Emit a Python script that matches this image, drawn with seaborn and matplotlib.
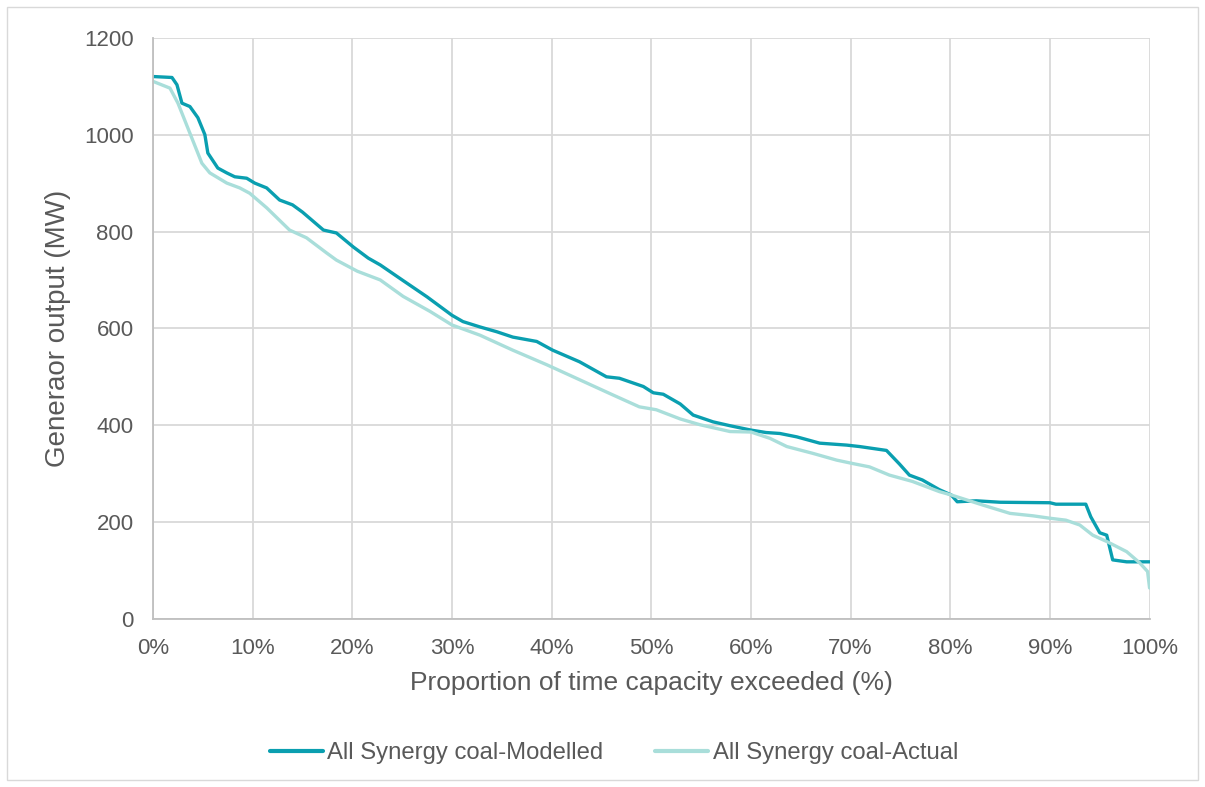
import numpy as np
import pandas as pd
import seaborn as sns
import matplotlib.pyplot as plt
from matplotlib.ticker import PercentFormatter
from matplotlib.patches import Rectangle

# duration curve points (x in % of time, y in MW)
modelled_x = [0.0, 1.9, 2.4, 2.9, 3.7, 4.5, 5.2, 5.5, 6.5, 7.4, 8.2, 9.4, 10.2, 11.4,
              12.7, 14.0, 15.0, 17.1, 18.4, 20.1, 21.6, 22.8, 25.0, 27.5, 30.0, 31.1,
              32.8, 34.5, 36.1, 38.5, 40.1, 42.8, 45.5, 46.8, 49.2, 50.2, 51.2, 52.9,
              54.2, 56.2, 57.9, 60.0, 61.5, 62.9, 64.6, 66.9, 69.6, 70.9, 73.6, 74.9,
              75.9, 77.2, 78.9, 80.1, 80.7, 82.6, 85.0, 90.0, 90.6, 93.6, 94.1, 95.0,
              95.7, 96.3, 97.7, 100.0]
modelled_y = [1120, 1118, 1103, 1065, 1058, 1035, 1000, 962, 931, 921, 913, 910, 900, 890,
              865, 855, 840, 803, 797, 768, 745, 731, 700, 665, 627, 614,
              603, 593, 582, 573, 555, 531, 500, 497, 480, 467, 464, 444,
              421, 407, 399, 390, 385, 383, 376, 363, 359, 356, 348, 320,
              297, 287, 267, 256, 242, 244, 241, 240, 237, 237, 211, 178,
              173, 122, 118, 118]

actual_x = [0.0, 1.7, 2.5, 3.7, 4.9, 5.7, 7.4, 8.7, 9.7, 11.4, 13.7, 15.4, 17.4, 18.4,
            20.5, 22.8, 25.1, 27.8, 30.0, 32.8, 36.1, 39.5, 42.8, 46.1, 48.8, 50.5,
            52.9, 54.9, 57.9, 60.0, 61.9, 63.6, 66.2, 68.6, 70.2, 71.9, 73.9, 76.2,
            78.9, 80.1, 83.3, 86.0, 88.3, 90.0, 91.6, 93.0, 94.3, 95.7, 97.7, 99.0,
            99.8, 100.0]
actual_y = [1110, 1096, 1065, 1003, 941, 921, 900, 890, 879, 849, 803, 787, 756, 741,
            718, 700, 666, 635, 607, 586, 555, 525, 494, 463, 438, 432,
            413, 401, 387, 386, 373, 356, 342, 328, 321, 314, 297, 284,
            263, 256, 235, 218, 213, 208, 204, 194, 173, 160, 139, 116,
            98, 64]

series_names = ["All Synergy coal-Modelled", "All Synergy coal-Actual"]
colours = ["#0A9FB0", "#A9DEDA"]

df = pd.concat([
    pd.DataFrame({"x": modelled_x, "y": modelled_y, "series": series_names[0]}),
    pd.DataFrame({"x": actual_x, "y": actual_y, "series": series_names[1]}),
])

sns.set_style("white")
plt.rcParams['font.family'] = ['Liberation Sans', 'DejaVu Sans']
text_col = "#595959"

fig = plt.figure(figsize=(12.05, 7.87), dpi=100)
ax = fig.add_axes([0.127, 0.2135, 0.827, 0.7385])

sns.lineplot(data=df, x="x", y="y", hue="series", hue_order=series_names,
             palette=colours, estimator=None, sort=False, linewidth=2.4, ax=ax,
             legend=False)

ax.set_xlim(0, 100)
ax.set_ylim(0, 1200)
ax.set_xticks(np.arange(0, 101, 10))
ax.set_yticks(np.arange(0, 1201, 200))
ax.xaxis.set_major_formatter(PercentFormatter(decimals=0))
ax.grid(True, color="#D9D9D9", linewidth=1.3)
ax.set_axisbelow(True)
for s in ["top", "right"]:
    ax.spines[s].set_visible(False)
for s in ["left", "bottom"]:
    ax.spines[s].set_color("#BFBFBF")
    ax.spines[s].set_linewidth(1.3)
ax.tick_params(axis="both", length=0, labelsize=16, colors=text_col)
ax.tick_params(axis="x", pad=14)
ax.tick_params(axis="y", pad=14)

ax.set_xlabel("Proportion of time capacity exceeded (%)", fontsize=19, color=text_col, labelpad=8)
ax.set_ylabel("Generaor output (MW)", fontsize=20, color=text_col, labelpad=9)

handles = [plt.Line2D([], [], color=c, linewidth=3) for c in colours]
leg = fig.legend(handles, series_names, loc="center", bbox_to_anchor=(0.5095, 0.043),
                 ncol=2, frameon=False, fontsize=17.2, handlelength=2.2,
                 columnspacing=2.17, handletextpad=0.2)
for t in leg.get_texts():
    t.set_color(text_col)

fig.patches.append(Rectangle((0.006, 0.009), 0.988, 0.982, transform=fig.transFigure,
                             fill=False, edgecolor="#D9D9D9", linewidth=1))

fig.savefig("out.png", dpi=100)
